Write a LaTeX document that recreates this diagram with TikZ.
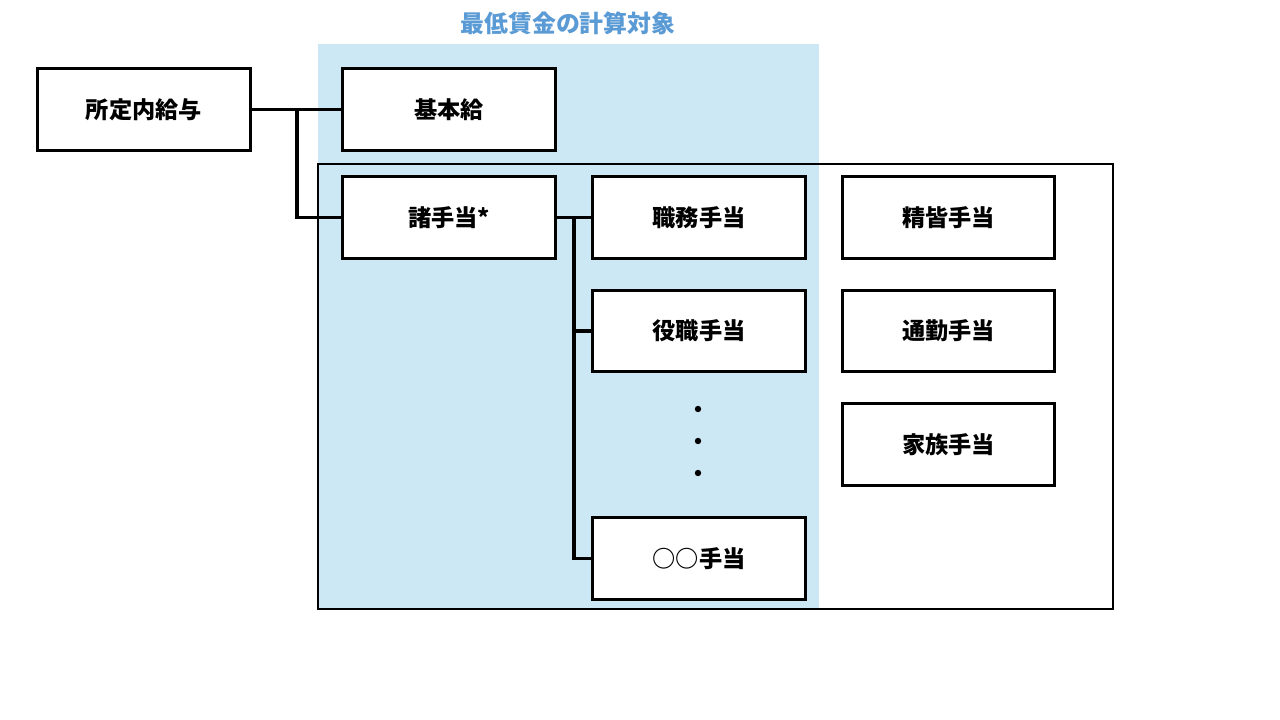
\documentclass[tikz,border=0pt]{standalone}
\usepackage{fontspec}
\setmainfont{Noto Sans CJK JP}
\usetikzlibrary{positioning}
\definecolor{zone}{HTML}{CDE8F5}
\definecolor{titleblue}{HTML}{5B9BD5}

\begin{document}
\begin{tikzpicture}[x=0.025cm,y=-0.025cm,
  kbox/.style={draw,line width=2.2pt,fill=white,minimum width=5.31cm,minimum height=2.04cm,
    font=\fontsize{16.5}{20}\selectfont\bfseries},
  kline/.style={line width=2.2pt,line join=miter}]
\useasboundingbox (0,0) rectangle (1280,720);
% zone du salaire minimum
\fill[zone] (318,44) rectangle (819,609);
\node[text=titleblue,font=\fontsize{17}{20}\selectfont\bfseries] (titre) at (568,23) {最低賃金の計算対象};
\draw[line width=1pt] (318,164) rectangle (1113,609);
\fill[zone] (318.6,164.6) rectangle (818.4,608.4);
% boites
\node[kbox] (shotei) at (144,109.5) {所定内給与};
\node[kbox] (kihon) at (449,109.5) {基本給};
\node[kbox] (shote) at (449,217.5) {諸手当*};
\node[kbox] (shokumu) at (699,217.5) {職務手当};
\node[kbox] (yakushoku) at (699,331) {役職手当};
\node[kbox] (maru) at (699,558.5) {○○手当};
\node[kbox] (seikai) at (948.5,217.5) {精皆手当};
\node[kbox] (tsukin) at (948.5,331) {通勤手当};
\node[kbox] (kazoku) at (948.5,444.5) {家族手当};
\foreach \y in {409,441,473}{
 \fill (698,\y) circle (3.2);}
% liaisons
\coordinate (j1) at (297,109.5);
\coordinate (j2) at (574,217.5);
\draw[kline] (shotei.east) -- (kihon.west);
\draw[kline] (j1) |- (shote.west);
\draw[kline] (shote.east) -- (shokumu.west);
\draw[kline] (j2) |- (yakushoku.west);
\draw[kline] (j2) |- (maru.west);
\end{tikzpicture}
\end{document}
